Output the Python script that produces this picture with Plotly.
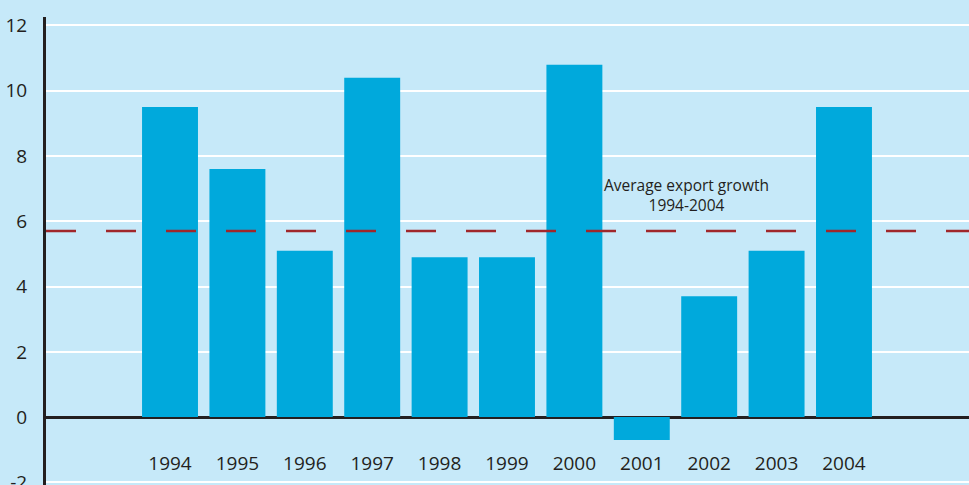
import plotly.graph_objects as go

years = [1994, 1995, 1996, 1997, 1998, 1999, 2000, 2001, 2002, 2003, 2004]
growth = [9.5, 7.6, 5.1, 10.4, 4.9, 4.9, 10.8, -0.7, 3.7, 5.1, 9.5]
average_growth = 5.7
y_tick_values = [-2, 0, 2, 4, 6, 8, 10, 12]
y_tick_labels = ["-2", "0", "2", "4", "6", "8", "10", "12"]
year_labels = [str(y) for y in years]
annotation_text = "Average export growth<br>1994-2004"

BG = "#c6e9f9"
BAR = "#00a9dc"
DARK = "#231f20"
RED = "#a0272b"
FONT = "Open Sans"

fig = go.Figure()
fig.add_trace(go.Bar(x=years, y=growth, width=0.83, marker=dict(color=BAR, line=dict(width=0)),
                     showlegend=False, hoverinfo="x+y"))
fig.add_trace(go.Scatter(x=years, y=[-1.47] * len(years), mode="text", text=year_labels,
                         textfont=dict(family=FONT, size=19, color=DARK), showlegend=False,
                         hoverinfo="skip"))
fig.add_shape(type="line", xref="paper", x0=0, x1=1, yref="y", y0=average_growth, y1=average_growth,
              line=dict(color=RED, width=2.5, dash="30px,30px"), layer="above")
fig.add_annotation(x=2001.66, y=6.8, xref="x", yref="y", text=annotation_text, showarrow=False,
                   font=dict(family=FONT, size=15.5, color=DARK), align="center")

fig.update_layout(
    width=969, height=485,
    margin=dict(l=46, r=0, t=17, b=0, autoexpand=False),
    paper_bgcolor=BG, plot_bgcolor=BG,
    font=dict(family=FONT, color=DARK),
    xaxis=dict(range=[1992.16, 2005.855], showticklabels=False, showgrid=False, zeroline=False,
               showline=False, ticks="", automargin=False),
    yaxis=dict(range=[-2.08, 12.26], tickvals=y_tick_values, ticktext=y_tick_labels,
               tickfont=dict(family=FONT, size=19, color=DARK), showgrid=True, gridcolor="white",
               gridwidth=2, zeroline=True, zerolinecolor=DARK, zerolinewidth=2.5,
               showline=True, linecolor=DARK, linewidth=3, ticks="", ticklabelstandoff=12,
               ticklabeloverflow="allow", automargin=False),
)

fig.write_html("out.html", config={"displayModeBar": False},
               post_script="document.body.style.margin='0';document.body.style.padding='0';"
                           "document.body.style.overflow='hidden';")
